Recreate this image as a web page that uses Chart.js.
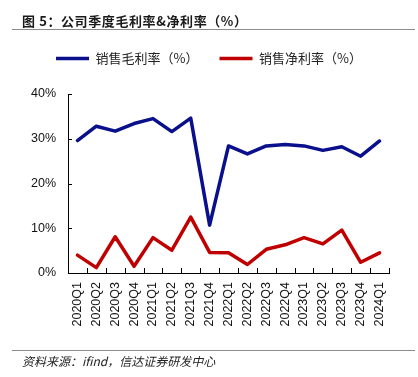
<!DOCTYPE html>
<html><head><meta charset="utf-8">
<script src="https://cdn.jsdelivr.net/npm/chart.js@4/dist/chart.umd.min.js"></script>
<style>
html,body{margin:0;padding:0;background:#fff;width:418px;height:377px;overflow:hidden;}
#wrap{position:absolute;left:0;top:0;width:418px;height:377px;}
#title{position:absolute;left:22px;top:11px;font:bold 13px "Noto Sans CJK SC",sans-serif;color:#1a1a1a;white-space:nowrap;letter-spacing:0.6px;}
#tline{position:absolute;left:12px;top:29px;width:403px;height:0;border-top:1.5px solid #8c8c8c;}
#fline{position:absolute;left:12px;top:350px;width:403px;height:0;border-top:1.5px solid #8c8c8c;}
#foot{position:absolute;left:22px;top:352px;font:italic 12px "Noto Sans CJK SC",sans-serif;color:#222;white-space:nowrap;}
</style></head>
<body>
<div id="wrap"><canvas id="c" width="418" height="377"></canvas></div>
<div id="title">图 5：公司季度毛利率&amp;净利率（%）</div>
<div id="tline"></div>
<div id="fline"></div>
<div id="foot">资料来源：ifind，信达证券研发中心</div>
<script>
const categories = ["2020Q1","2020Q2","2020Q3","2020Q4","2021Q1","2021Q2","2021Q3","2021Q4","2022Q1","2022Q2","2022Q3","2022Q4","2023Q1","2023Q2","2023Q3","2023Q4","2024Q1"];
const grossMargin = [29.6,32.8,31.7,33.4,34.5,31.6,34.6,10.7,28.4,26.6,28.4,28.7,28.4,27.4,28.2,26.1,29.5];
const netMargin = [4.0,1.2,8.1,1.5,7.9,5.1,12.5,4.6,4.5,1.9,5.3,6.3,7.9,6.5,9.6,2.4,4.5];
const seriesNames = ["销售毛利率（%）","销售净利率（%）"];
const yTicks = [0,10,20,30,40];

const tickFont = {family:"Arial, 'Liberation Sans', sans-serif", size:12.5};

const innerTicks = {
  id:'innerTicks',
  afterDraw(chart){
    const ctx = chart.ctx, x = chart.scales.x, y = chart.scales.y;
    ctx.save();
    ctx.strokeStyle = '#000'; ctx.lineWidth = 1;
    ctx.beginPath();
    const n = categories.length;
    const w = (x.right - x.left) / n;
    for(let i=0;i<=n;i++){
      const px = Math.round(x.left + i*w) + 0.5;
      ctx.moveTo(px, y.bottom); ctx.lineTo(px, y.bottom - 5);
    }
    yTicks.forEach(v=>{
      const py = Math.round(y.getPixelForValue(v)) + 0.5;
      ctx.moveTo(x.left, py); ctx.lineTo(x.left + 4, py);
    });
    ctx.stroke();
    ctx.restore();
  }
};

const legendFit = {
  id:'legendFit',
  beforeInit(chart){
    const orig = chart.legend.fit;
    chart.legend.fit = function(){ orig.call(this); this.height = 63; };
  }
};

new Chart(document.getElementById('c'), {
  type:'line',
  data:{
    labels: categories,
    datasets:[
      {label:seriesNames[0], data:grossMargin, borderColor:'#0a0f8c', backgroundColor:'#0a0f8c', borderWidth:3.5, pointRadius:0, tension:0, borderJoinStyle:'round', borderCapStyle:'round', yAxisID:'y'},
      {label:seriesNames[1], data:netMargin, borderColor:'#c00000', backgroundColor:'#c00000', borderWidth:3.5, pointRadius:0, tension:0, borderJoinStyle:'round', borderCapStyle:'round', yAxisID:'y'}
    ]
  },
  options:{
    responsive:false,
    animation:false,
    layout:{padding:{top:31,left:0,right:0,bottom:0}},
    plugins:{
      legend:{
        position:'top',
        labels:{
          usePointStyle:true, pointStyle:'line', pointStyleWidth:33,
          padding:21, color:'#222',
          font:{family:"'Noto Sans CJK SC', sans-serif", size:13}
        }
      },
      tooltip:{enabled:false}
    },
    scales:{
      x:{
        offset:true,
        grid:{display:false, drawTicks:false},
        border:{display:true, color:'#000', width:1},
        ticks:{minRotation:90, maxRotation:90, padding:9, color:'#111', font:tickFont, autoSkip:false},
        afterFit(s){ s.height = 104; }
      },
      y:{
        min:0, max:40,
        grid:{display:false, drawTicks:false},
        border:{display:true, color:'#000', width:1},
        afterBuildTicks(s){ s.ticks = yTicks.map(v=>({value:v})); },
        ticks:{padding:12, color:'#111', font:tickFont, callback:v=>v+'%'},
        afterFit(s){ s.width = 68; }
      },
      y2:{
        position:'right', display:true,
        grid:{display:false, drawTicks:false},
        border:{display:false},
        ticks:{display:false},
        afterFit(s){ s.width = 29; }
      }
    }
  },
  plugins:[innerTicks, legendFit]
});
</script>
</body></html>
